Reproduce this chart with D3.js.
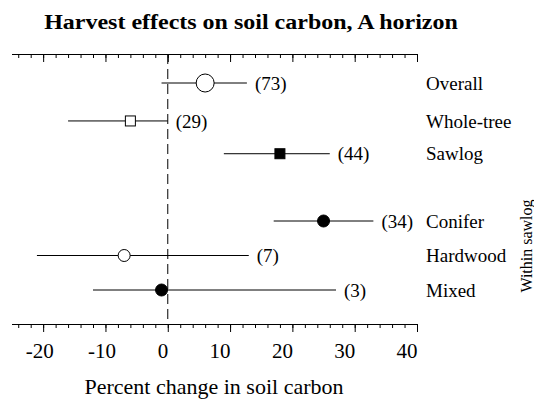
<!DOCTYPE html>
<html><head><meta charset="utf-8">
<script src="https://cdn.jsdelivr.net/npm/d3@7"></script>
<style>body{margin:0;background:#fff}svg{display:block}text{font-family:"Liberation Serif","Times New Roman",serif;fill:#000}</style>
</head><body><svg id="c" width="534" height="400"></svg>
<script>
const categories = ["Overall","Whole-tree","Sawlog","Conifer","Hardwood","Mixed"];
const rowSlots   = [0, 1.1, 2.05, 4, 5, 6];
const means      = [6, -6, 18, 25, -7, -1];
const lowerCI    = [-1, -16, 9, 17, -21, -12];
const upperCI    = [12.7, 0, 26, 33, 13, 27];
const sampleN    = ["(73)","(29)","(44)","(34)","(7)","(3)"];
const markerShape= ["circle","square","square","circle","circle","circle"];
const markerFill = ["open","open","filled","filled","open","filled"];
const markerSize = ["large","small","small","small","small","small"];
const tickLabels = [-20,-10,0,10,20,30,40];
const minorTicks = d3.range(-24, 41, 2);

const svg = d3.select("#c");
const x = d3.scaleLinear().domain([-25, 40]).range([12, 417]);
const y = d3.scaleLinear().domain([0, 6]).range([83, 290]);
const yTop = 54, yBot = 324;

svg.append("g").attr("transform","translate(251,29) scale(1.2,1)")
  .append("text").attr("text-anchor","middle")
  .attr("font-weight","bold").attr("font-size", 20)
  .text("Harvest effects on soil carbon, A horizon");

function drawAxis(yy, labels) {
  const ax = d3.axisBottom(x).tickValues(minorTicks).tickSize(4).tickFormat("");
  const g = svg.append("g").attr("transform", `translate(0,${yy})`).call(ax);
  g.select(".domain").attr("d", `M${x(-25)},0.5H${x(40)}`).attr("stroke","#000");
  g.selectAll(".tick line").attr("stroke","#000");
  const ax2 = d3.axisBottom(x).tickValues(tickLabels).tickSize(8).tickFormat("");
  const g2 = svg.append("g").attr("transform", `translate(0,${yy})`).call(ax2);
  g2.select(".domain").remove();
  g2.selectAll(".tick line").attr("stroke","#000");
  if (labels) {
    g2.selectAll(".tick").append("text")
      .attr("y", 34).attr("dx", d => d < 0 ? 10 : 0)
      .attr("text-anchor","end").attr("font-size", 21)
      .attr("font-family","'Liberation Serif',serif").attr("fill","#000")
      .text(d => String(d));
  }
}
drawAxis(yTop, false);
drawAxis(yBot, true);

svg.append("line").attr("x1", x(0)).attr("x2", x(0)).attr("y1", yTop).attr("y2", yBot)
  .attr("stroke","#000").attr("stroke-dasharray","10,5");

svg.append("text").attr("x", 214).attr("y", 394).attr("text-anchor","middle")
  .attr("font-size", 22).text("Percent change in soil carbon");

const rows = categories.map((c,i)=>({c, slot:rowSlots[i], m:means[i], lo:lowerCI[i], hi:upperCI[i], n:sampleN[i], shape:markerShape[i], fill:markerFill[i], size:markerSize[i]}));
const g = svg.append("g");
g.selectAll("line.ci").data(rows).join("line").attr("class","ci")
  .attr("x1", d=>x(d.lo)).attr("x2", d=>x(d.hi)).attr("y1", d=>y(d.slot)).attr("y2", d=>y(d.slot))
  .attr("stroke","#000").attr("stroke-width",1);
rows.forEach(d=>{
  const cx = x(d.m), cy = y(d.slot);
  const fill = d.fill==="filled" ? "#000" : "#fff";
  if (d.shape==="circle") {
    const r = d.size==="large" ? 9 : 6;
    g.append("circle").attr("cx",cx).attr("cy",cy).attr("r",r).attr("fill",fill).attr("stroke","#000");
  } else {
    g.append("rect").attr("x",cx-5).attr("y",cy-5).attr("width",10).attr("height",10).attr("fill",fill).attr("stroke","#000");
  }
});
g.selectAll("text.n").data(rows).join("text").attr("class","n")
  .attr("x", d=>x(d.hi)+8).attr("y", d=>y(d.slot)).attr("dy","0.35em")
  .attr("font-size",19).text(d=>d.n);
g.selectAll("text.cat").data(rows).join("text").attr("class","cat")
  .attr("x", 426).attr("y", d=>y(d.slot)).attr("dy","0.35em")
  .attr("font-size",19).text(d=>d.c);

svg.append("text").attr("transform","translate(532,246) rotate(-90)").attr("text-anchor","middle")
  .attr("font-size",16).text("Within sawlog");
</script></body></html>
